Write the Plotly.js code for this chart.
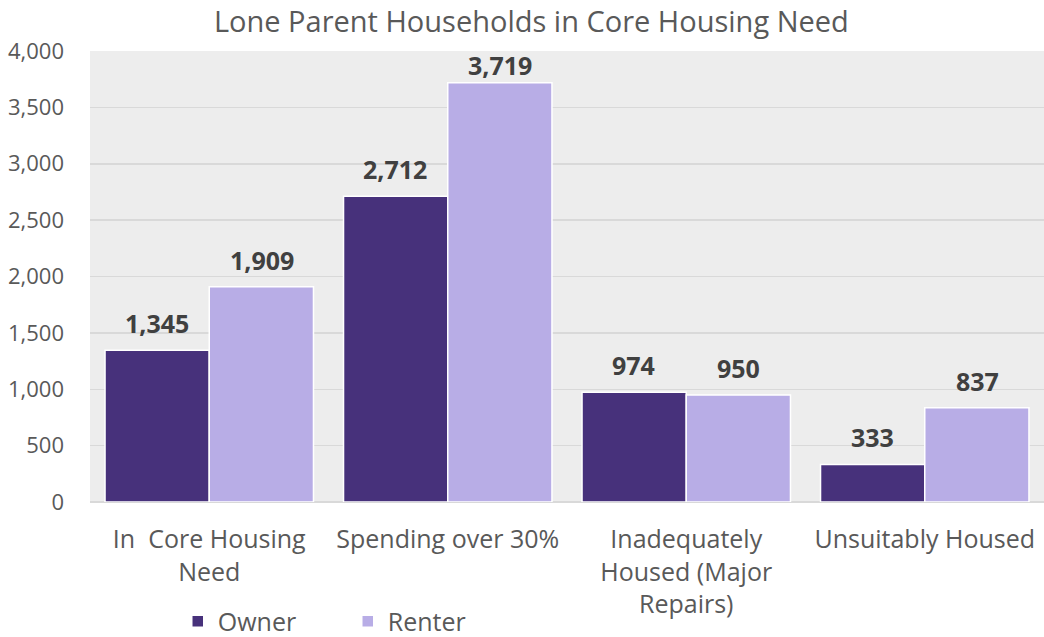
<!DOCTYPE html>
<html>
<head>
<meta charset="utf-8">
<script src="https://cdn.plot.ly/plotly-3.0.1.min.js"></script>
<style>html,body{margin:0;padding:0;background:#fff;}#chart{width:1044px;height:637px;}</style>
</head>
<body>
<div id="chart"></div>
<script>
const categories = ["In  Core Housing<br>Need", "Spending over 30%", "Inadequately<br>Housed (Major<br>Repairs)", "Unsuitably Housed"];
const ownerValues = [1345, 2712, 974, 333];
const renterValues = [1909, 3719, 950, 837];
const seriesNames = ["Owner", "Renter"];
const yTickVals = [0, 500, 1000, 1500, 2000, 2500, 3000, 3500, 4000];
const yRange = [0, 4000];

const FONT = "Open Sans, sans-serif";
const ownerColor = "#47317b";
const renterColor = "#b8ade6";

const traces = [
  {type: "bar", name: seriesNames[0], x: categories, y: ownerValues,
   marker: {color: ownerColor, line: {color: "#ffffff", width: 1.5}}, hoverinfo: "y"},
  {type: "bar", name: seriesNames[1], x: categories, y: renterValues,
   marker: {color: renterColor, line: {color: "#ffffff", width: 1.5}}, hoverinfo: "y"}
];

// Data labels: placed above each bar; like Excel, a label that would leave the plot area is kept inside it.
const annotations = [];
const fmt = v => v.toLocaleString("en-US");
const labelRoom = 0.1 * (yRange[1] - yRange[0]);
function addLabel(cat, val, shift) {
  const clamp = val > yRange[1] - labelRoom;
  annotations.push({x: cat, y: clamp ? yRange[1] : val, xref: "x", yref: "y",
    text: "<b>" + fmt(val) + "</b>", showarrow: false,
    yanchor: clamp ? "top" : "bottom", xshift: shift, yshift: clamp ? 5 : 8,
    font: {family: FONT, size: 25, color: "#404040"}});
}
categories.forEach((c, i) => {
  addLabel(c, ownerValues[i], -52.5);
  addLabel(c, renterValues[i], 52.5);
});

const layout = {
  width: 1044, height: 637,
  margin: {l: 90, r: 0, t: 51, b: 135, autoexpand: false},
  paper_bgcolor: "#ffffff",
  plot_bgcolor: "#ededed",
  font: {family: FONT, color: "#595959", size: 22},
  title: {text: "Lone Parent Households in Core Housing Need", x: 0.509, xref: "container", xanchor: "center",
          y: 0.965, yref: "container", yanchor: "middle", font: {family: FONT, size: 29, color: "#595959"}},
  barmode: "group",
  bargap: 0.126,
  bargroupgap: 0,
  xaxis: {type: "category", showgrid: false, zeroline: false, showline: false, ticks: "",
          ticklabelstandoff: 20, tickfont: {family: FONT, size: 25, color: "#595959"}},
  yaxis: {range: yRange, tickvals: yTickVals, tickformat: ",d", showgrid: true, gridcolor: "#d9d9d9", gridwidth: 1.5,
          zeroline: true, zerolinecolor: "#d9d9d9", zerolinewidth: 1.5, showline: false, ticks: "",
          ticklabelstandoff: 25, tickfont: {family: FONT, size: 22, color: "#595959"}},
  showlegend: true,
  legend: {orientation: "h", x: 0.092, xanchor: "left", y: -0.265, yanchor: "middle", entrywidth: 125,
           font: {family: FONT, size: 25, color: "#595959"}, itemwidth: 30, tracegroupgap: 0, bgcolor: "rgba(0,0,0,0)"},
  annotations: annotations
};

Plotly.newPlot("chart", traces, layout, {displayModeBar: false, staticPlot: true});
</script>
</body>
</html>
